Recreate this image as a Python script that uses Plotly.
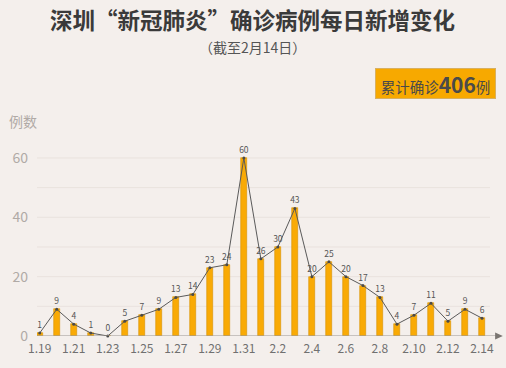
import plotly.graph_objects as go

dates = ["1.19","1.20","1.21","1.22","1.23","1.24","1.25","1.26","1.27","1.28","1.29","1.30","1.31",
         "2.1","2.2","2.3","2.4","2.5","2.6","2.7","2.8","2.9","2.10","2.11","2.12","2.13","2.14"]
values = [1,9,4,1,0,5,7,9,13,14,23,24,60,26,30,43,20,25,20,17,13,4,7,11,5,9,6]
tick_labels = dates[::2]

bg = "#f4efec"
font = "Noto Sans CJK SC"
idx = list(range(len(dates)))

W, H = 506, 368
PL, PR, PT, PB = 33, 492, 152, 337   # plot area in page pixels
l, r, t, b = PL, W - PR, PT, H - PB
pw, ph = PR - PL, PB - PT

def px(x):
    return (x - PL) / pw

def py(y):
    return (PB - y) / ph

fig = go.Figure()
fig.add_trace(go.Bar(x=idx, y=values, width=0.36,
                     marker=dict(color="#f9aa05", line=dict(color="#d89200", width=0.6)),
                     hoverinfo="skip", showlegend=False))
fig.add_trace(go.Scatter(x=idx, y=values, mode="lines+markers+text",
                         line=dict(color="#5a5a5a", width=1),
                         marker=dict(color="#4a4a4a", size=3),
                         text=[str(v) for v in values], textposition="top center",
                         textfont=dict(size=8.5, color="#555555", family=font),
                         showlegend=False, cliponaxis=False, hoverinfo="skip"))

fig.update_layout(
    width=W, height=H, margin=dict(l=l, r=r, t=t, b=b),
    paper_bgcolor=bg, plot_bgcolor=bg,
    font=dict(family=font),
    bargap=0,
    xaxis=dict(range=[-0.16, 26.47], tickmode="array", tickvals=idx[::2], ticktext=tick_labels,
               showgrid=False, zeroline=False, showline=False, ticks="",
               ticklabelstandoff=4,
               tickfont=dict(size=12, color="#707070", family=font), fixedrange=True),
    yaxis=dict(range=[0, 62], tickvals=[0, 20, 40, 60], showgrid=False, zeroline=False,
               ticks="", tickfont=dict(size=14, color="#b0aaa6", family=font),
               ticklabelstandoff=8, fixedrange=True),
)

# gridlines every 10
for gv in [10, 20, 30, 40, 50, 60]:
    fig.add_shape(type="line", xref="paper", yref="y", x0=0, x1=1, y0=gv, y1=gv,
                  line=dict(color="#e9e2de", width=1), layer="below")

# x axis line with arrow
ax = px(499)
fig.add_shape(type="line", xref="paper", yref="y", x0=0, x1=ax, y0=0, y1=0,
              line=dict(color="#9a9591", width=1.2))
ah = 6 / pw
fig.add_shape(type="path", xref="paper", yref="paper",
              path=f"M {ax+ah} 0 L {ax-0.3*ah} {3.5/ph} L {ax-0.3*ah} {-3.5/ph} Z",
              fillcolor="#7a7571", line=dict(width=0))

fig.add_annotation(text="深圳“新冠肺炎”确诊病例每日新增变化", xref="paper", yref="paper",
                   x=px(251), y=py(18), showarrow=False,
                   font=dict(size=22.5, color="#3a3a3a", family=font, weight="bold"),
                   xanchor="center", yanchor="middle")
fig.add_annotation(text="（截至2月14日）", xref="paper", yref="paper",
                   x=px(251), y=py(46), showarrow=False,
                   font=dict(size=14, color="#555555", family=font),
                   xanchor="center", yanchor="middle")
fig.add_annotation(text="例数", xref="paper", yref="paper",
                   x=px(3), y=py(121), showarrow=False,
                   font=dict(size=14, color="#b0aaa6", family=font),
                   xanchor="left", yanchor="middle")
fig.add_annotation(text="累计确诊<b><span style='font-size:21px'>406</span></b>例",
                   xref="paper", yref="paper",
                   x=px(437), y=py(83.5), showarrow=False,
                   font=dict(size=14.5, color="#4a4a4a", family=font),
                   bgcolor="#f7a900", bordercolor="#d8b060", borderwidth=1,
                   width=117, height=27, borderpad=1,
                   xanchor="center", yanchor="middle")

fig.write_html("out.html", config={"displayModeBar": False},
               post_script="document.body.style.margin='0';")
